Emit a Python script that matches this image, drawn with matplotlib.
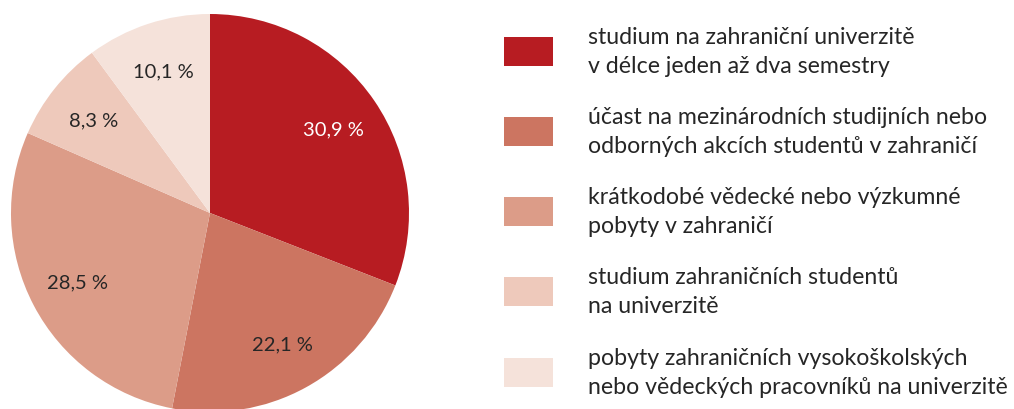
import matplotlib.pyplot as plt
from matplotlib.patches import Rectangle

plt.rcParams['font.family'] = ['Lato', 'DejaVu Sans']

shares = [30.9, 22.1, 28.5, 8.3, 10.1]
labels = [
    'studium na zahraniční univerzitě\nv délce jeden až dva semestry',
    'účast na mezinárodních studijních nebo\nodborných akcích studentů v zahraničí',
    'krátkodobé vědecké nebo výzkumné\npobyty v zahraničí',
    'studium zahraničních studentů\nna univerzitě',
    'pobyty zahraničních vysokoškolských\nnebo vědeckých pracovníků na univerzitě',
]
colors = ['#b71c22', '#cc7561', '#dc9c88', '#eec9bb', '#f5e2da']
pct_colors = ['white', '#262626', '#262626', '#262626', '#262626']

W, H = 1014, 410
fig = plt.figure(figsize=(W / 100, H / 100), dpi=100)
ax = fig.add_axes([0, 0, 1, 1])

wedges, texts, autotexts = ax.pie(
    shares, colors=colors, startangle=90, counterclock=False,
    center=(210, H - 214), radius=199, frame=True,
    autopct=lambda p: '', pctdistance=0.75,
    wedgeprops=dict(linewidth=0))
ax.set_xlim(0, W)
ax.set_ylim(0, H)
ax.set_aspect('equal')
ax.axis('off')

for t, v, c in zip(autotexts, shares, pct_colors):
    t.set_text(f'{v:.1f} %'.replace('.', ','))
    t.set_color(c)
    t.set_fontsize(14.5)

# legend drawn by hand: colour box + two-line description
row_y = [52, 132, 212, 292, 373]
for y, lab, c in zip(row_y, labels, colors):
    ax.add_patch(Rectangle((504, H - y - 14.5), 49, 29, color=c, lw=0))
    ax.text(588, H - y, lab, fontsize=16.7, color='#262626', va='center',
            ha='left', linespacing=1.5)

fig.savefig('out.png', dpi=100)
